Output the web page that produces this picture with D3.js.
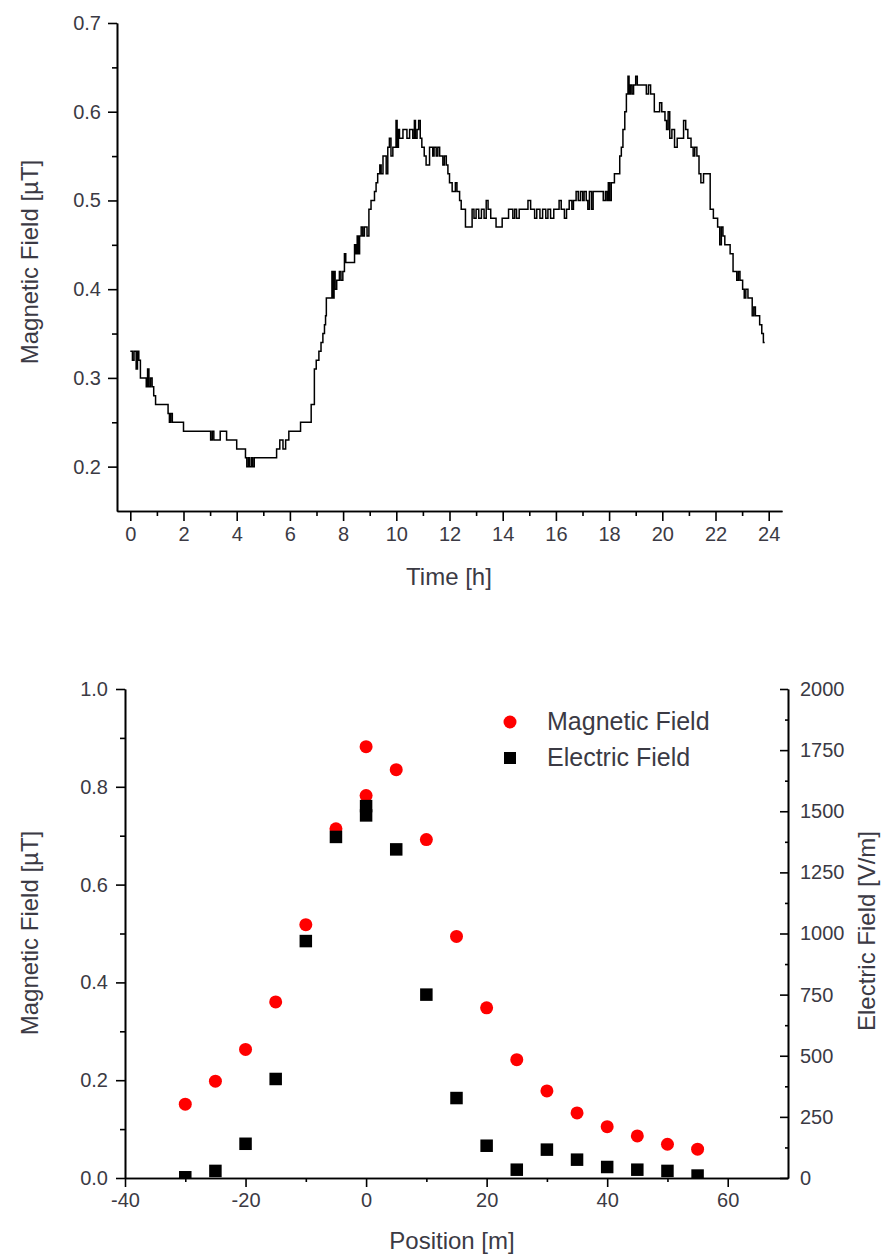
<!DOCTYPE html>
<html>
<head>
<meta charset="utf-8">
<script src="https://cdn.jsdelivr.net/npm/d3@7"></script>
<style>
  html, body { margin: 0; padding: 0; background: #fff; }
  svg { display: block; }
  text { font-family: "Liberation Sans", Arial, sans-serif; }
</style>
</head>
<body>
<svg id="chart" width="887" height="1259"></svg>
<script>
// ---------- Top chart data: magnetic field over a day ----------
const hours = [0.00,0.08,0.14,0.22,0.27,0.32,0.38,0.60,0.65,0.70,0.76,0.82,0.88,0.95,1.42,1.47,1.52,1.58,2.00,3.02,3.08,3.14,3.38,3.62,4.00,4.33,4.38,4.44,4.48,4.55,4.60,4.66,5.50,5.62,5.74,5.84,5.96,6.40,6.80,6.92,6.99,7.09,7.17,7.24,7.30,7.34,7.37,7.58,7.62,7.66,7.70,7.76,7.86,7.92,7.99,8.05,8.10,8.43,8.48,8.53,8.58,8.62,8.68,8.74,8.80,8.90,8.97,9.05,9.18,9.24,9.30,9.38,9.43,9.50,9.62,9.68,9.74,9.80,9.87,9.99,10.03,10.08,10.12,10.25,10.40,10.50,10.62,10.68,10.72,10.78,10.84,10.90,10.96,11.05,11.12,11.25,11.37,11.42,11.50,11.56,11.63,11.75,11.81,11.88,11.94,12.00,12.10,12.22,12.28,12.38,12.44,12.60,12.85,12.92,13.00,13.10,13.20,13.30,13.38,13.45,13.55,13.75,13.98,14.22,14.38,14.45,14.52,14.62,14.95,15.05,15.20,15.28,15.40,15.50,15.62,15.70,15.80,15.92,16.12,16.20,16.32,16.40,16.50,16.60,16.66,16.76,16.84,16.92,17.00,17.06,17.14,17.20,17.26,17.34,17.40,17.78,17.86,17.92,17.97,18.02,18.08,18.20,18.40,18.46,18.52,18.59,18.65,18.71,18.75,18.80,18.86,18.92,19.00,19.06,19.40,19.48,19.56,19.70,19.90,19.98,20.10,20.16,20.22,20.28,20.36,20.46,20.56,20.80,20.88,20.96,21.08,21.16,21.22,21.30,21.38,21.45,21.55,21.80,21.92,22.08,22.16,22.22,22.28,22.35,22.55,22.66,22.80,22.86,22.92,23.02,23.08,23.14,23.22,23.38,23.44,23.50,23.66,23.74,23.80,23.85];
const fieldDay = [0.33,0.32,0.33,0.31,0.33,0.32,0.30,0.29,0.31,0.29,0.30,0.29,0.28,0.27,0.26,0.25,0.26,0.25,0.24,0.23,0.24,0.23,0.24,0.23,0.22,0.21,0.20,0.21,0.20,0.21,0.20,0.21,0.22,0.23,0.22,0.23,0.24,0.25,0.27,0.31,0.32,0.33,0.34,0.35,0.36,0.37,0.39,0.42,0.39,0.42,0.40,0.41,0.42,0.41,0.42,0.44,0.43,0.45,0.44,0.46,0.44,0.46,0.47,0.46,0.47,0.46,0.49,0.50,0.51,0.52,0.53,0.54,0.53,0.55,0.53,0.56,0.57,0.55,0.56,0.59,0.56,0.58,0.57,0.58,0.57,0.58,0.57,0.59,0.57,0.58,0.59,0.57,0.56,0.55,0.54,0.56,0.55,0.56,0.55,0.56,0.55,0.54,0.55,0.54,0.53,0.52,0.51,0.52,0.51,0.50,0.49,0.47,0.49,0.48,0.49,0.48,0.49,0.48,0.50,0.49,0.48,0.47,0.48,0.49,0.48,0.49,0.48,0.49,0.50,0.49,0.48,0.49,0.48,0.49,0.48,0.49,0.48,0.49,0.50,0.49,0.48,0.49,0.50,0.49,0.50,0.51,0.50,0.51,0.50,0.51,0.50,0.49,0.51,0.49,0.51,0.50,0.51,0.50,0.52,0.50,0.52,0.53,0.55,0.56,0.58,0.60,0.62,0.64,0.62,0.63,0.62,0.63,0.64,0.63,0.62,0.63,0.62,0.60,0.61,0.60,0.59,0.58,0.60,0.57,0.58,0.56,0.57,0.59,0.58,0.57,0.56,0.55,0.56,0.55,0.53,0.52,0.53,0.49,0.48,0.47,0.45,0.47,0.46,0.45,0.44,0.42,0.41,0.42,0.41,0.40,0.39,0.40,0.39,0.37,0.38,0.37,0.36,0.35,0.34,0.34];
const topXTicks = [0,2,4,6,8,10,12,14,16,18,20,22,24];
const topXMinor = [1,3,5,7,9,11,13,15,17,19,21,23];
const topYTicks = [0.2,0.3,0.4,0.5,0.6,0.7];
const topYMinor = [0.25,0.35,0.45,0.55,0.65];

// ---------- Bottom chart data: fields versus position ----------
const positions = [-30,-25,-20,-15,-10,-5,0,0,5,10,15,20,25,30,35,40,45,50,55];
const magneticField = [0.151,0.198,0.263,0.360,0.518,0.714,0.882,0.782,0.835,0.692,0.494,0.348,0.242,0.178,0.133,0.105,0.086,0.069,0.059];
const electricField = [3,29,140,405,969,1395,1521,1483,1344,750,327,132,34,116,75,45,34,29,10];
const botXTicks = [-40,-20,0,20,40,60];
const botXMinor = [-30,-10,10,30,50];
const botYTicks = [0,0.2,0.4,0.6,0.8,1.0];
const botYMinor = [0.1,0.3,0.5,0.7,0.9];
const botY2Ticks = [0,250,500,750,1000,1250,1500,1750,2000];
const botY2Minor = [125,375,625,875,1125,1375,1625,1875];
const legendLabels = ["Magnetic Field","Electric Field"];

const svg = d3.select("#chart");
const textColor = "#3b3a44";
const tickFont = 20, titleFont = 24, legendFont = 25;

function styleAxis(g) {
  g.selectAll("path.domain").attr("stroke", "#000").attr("stroke-width", 1.6);
  g.selectAll(".tick line").attr("stroke", "#000").attr("stroke-width", 1.6);
  g.selectAll(".tick text").attr("fill", textColor).attr("font-size", tickFont)
    .attr("font-family", '"Liberation Sans", Arial, sans-serif');
}
const intFmt = d => String(d);          // plain hyphen-minus like the reference
const oneDec = d => d.toFixed(1);

// ================= TOP CHART =================
const x1 = d3.scaleLinear().domain([-0.5, 24.5]).range([117, 782]);
const y1 = d3.scaleLinear().domain([0.15, 0.7]).range([511, 23]);

const lineData = hours.map((h, i) => [h, fieldDay[i]]);
svg.append("path")
  .datum(lineData)
  .attr("fill", "none")
  .attr("stroke", "#000")
  .attr("stroke-width", 1.5)
  .attr("d", d3.line().x(d => x1(d[0])).y(d => y1(d[1])).curve(d3.curveStepAfter));

svg.append("g").attr("transform", "translate(0,511)")
  .call(d3.axisBottom(x1).tickValues(topXMinor).tickSize(5).tickFormat("").tickSizeOuter(0))
  .call(styleAxis);
svg.append("g").attr("transform", "translate(117,0)")
  .call(d3.axisLeft(y1).tickValues(topYMinor).tickSize(5).tickFormat("").tickSizeOuter(0))
  .call(styleAxis);
svg.append("g").attr("transform", "translate(0,511)")
  .call(d3.axisBottom(x1).tickValues(topXTicks).tickSize(10).tickPadding(6).tickFormat(intFmt).tickSizeOuter(0))
  .call(styleAxis);
svg.append("g").attr("transform", "translate(117,0)")
  .call(d3.axisLeft(y1).tickValues(topYTicks).tickSize(9).tickPadding(7).tickFormat(oneDec).tickSizeOuter(0))
  .call(styleAxis);

svg.append("text").attr("x", 449).attr("y", 585).attr("text-anchor", "middle")
  .attr("font-size", titleFont).attr("fill", textColor).text("Time [h]");
svg.append("text").attr("transform", "translate(38,262) rotate(-90)").attr("text-anchor", "middle")
  .attr("font-size", titleFont).attr("fill", textColor).text("Magnetic Field [\u00B5T]");

// ================= BOTTOM CHART =================
const x2 = d3.scaleLinear().domain([-40, 70]).range([125, 788]);
const y2 = d3.scaleLinear().domain([0, 1]).range([1178, 689]);
const y2r = d3.scaleLinear().domain([0, 2000]).range([1178, 689]);

svg.append("defs").append("clipPath").attr("id", "clipB")
  .append("rect").attr("x", 125).attr("y", 689).attr("width", 663).attr("height", 489);

const pts = svg.append("g").attr("clip-path", "url(#clipB)");
pts.selectAll("circle.mag").data(positions).join("circle")
  .attr("class", "mag")
  .attr("cx", d => x2(d))
  .attr("cy", (d, i) => y2(magneticField[i]))
  .attr("r", 6.5)
  .attr("fill", "#ff0000");
const sq = 12.5;
pts.selectAll("rect.ele").data(positions).join("rect")
  .attr("class", "ele")
  .attr("x", d => x2(d) - sq / 2)
  .attr("y", (d, i) => y2r(electricField[i]) - sq / 2)
  .attr("width", sq).attr("height", sq)
  .attr("fill", "#000");

svg.append("g").attr("transform", "translate(0,1178)")
  .call(d3.axisBottom(x2).tickValues(botXMinor).tickSize(4).tickFormat("").tickSizeOuter(0))
  .call(styleAxis);
svg.append("g").attr("transform", "translate(125,0)")
  .call(d3.axisLeft(y2).tickValues(botYMinor).tickSize(5).tickFormat("").tickSizeOuter(0))
  .call(styleAxis);
svg.append("g").attr("transform", "translate(788,0)")
  .call(d3.axisLeft(y2r).tickValues(botY2Minor).tickSize(3).tickFormat("").tickSizeOuter(0))
  .call(styleAxis);
svg.append("g").attr("transform", "translate(0,1178)")
  .call(d3.axisBottom(x2).tickValues(botXTicks).tickSize(9).tickPadding(6).tickFormat(intFmt).tickSizeOuter(0))
  .call(styleAxis);
svg.append("g").attr("transform", "translate(125,0)")
  .call(d3.axisLeft(y2).tickValues(botYTicks).tickSize(9).tickPadding(8).tickFormat(oneDec).tickSizeOuter(0))
  .call(styleAxis);
const rAxis = svg.append("g").attr("transform", "translate(788,0)")
  .call(d3.axisLeft(y2r).tickValues(botY2Ticks).tickSize(8).tickFormat(intFmt).tickSizeOuter(0))
  .call(styleAxis);
rAxis.selectAll(".tick text").attr("x", 12).attr("text-anchor", "start");

svg.append("text").attr("x", 452).attr("y", 1249).attr("text-anchor", "middle")
  .attr("font-size", titleFont).attr("fill", textColor).text("Position [m]");
svg.append("text").attr("transform", "translate(38,933) rotate(-90)").attr("text-anchor", "middle")
  .attr("font-size", titleFont).attr("fill", textColor).text("Magnetic Field [\u00B5T]");
svg.append("text").attr("transform", "translate(875,931) rotate(-90)").attr("text-anchor", "middle")
  .attr("font-size", titleFont).attr("fill", textColor).text("Electric Field [V/m]");

// legend
const leg = svg.append("g");
leg.append("circle").attr("cx", 510).attr("cy", 722).attr("r", 6.5).attr("fill", "#ff0000");
leg.append("rect").attr("x", 510 - 6).attr("y", 758 - 6).attr("width", 12).attr("height", 12).attr("fill", "#000");
leg.selectAll("text.lg").data(legendLabels).join("text")
  .attr("class", "lg")
  .attr("x", 547)
  .attr("y", (d, i) => 730 + i * 36)
  .attr("font-size", legendFont)
  .attr("fill", textColor)
  .text(d => d);
</script>
</body>
</html>
